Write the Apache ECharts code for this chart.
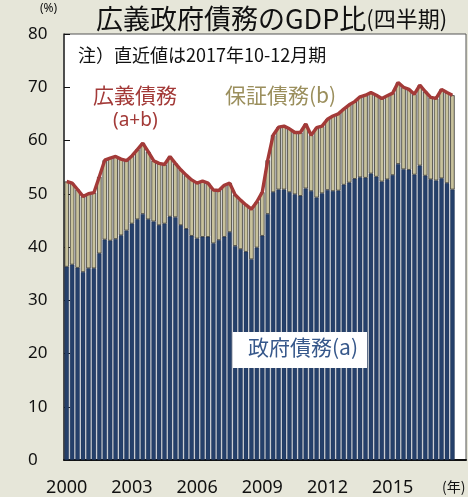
<!DOCTYPE html>
<html>
<head>
<meta charset="utf-8">
<script src="https://cdn.jsdelivr.net/npm/echarts@6/dist/echarts.min.js"></script>
<style>
  html, body { margin: 0; padding: 0; background: #e6e6d9; }
  #chart { width: 468px; height: 497px; }
</style>
</head>
<body>
<div id="chart"></div>
<script>
// 2000Q1 .. 2017Q4, % of GDP
var govDebt = [
  36.3, 36.7, 36.1, 35.3, 36.0, 36.0, 38.8, 41.4, 41.2, 41.5, 42.2, 43.1,
  44.4, 45.2, 46.2, 45.2, 44.8, 44.1, 44.4, 45.7, 45.6, 44.1, 43.4, 42.1,
  41.6, 41.9, 41.9, 40.7, 41.3, 41.9, 42.8, 40.2, 39.6, 39.1, 37.7, 39.9,
  42.1, 46.2, 50.3, 50.8, 50.8, 50.3, 49.9, 49.6, 51.0, 50.5, 49.3, 50.1,
  50.7, 50.5, 50.6, 51.7, 52.1, 52.8, 53.1, 53.0, 53.8, 53.2, 52.3, 52.7,
  53.5, 55.6, 54.6, 54.5, 53.6, 55.3, 53.4, 52.7, 52.5, 52.9, 52.0, 50.8
];
var broadDebt = [
  52.3, 52.0, 50.8, 49.5, 50.0, 50.2, 53.2, 56.3, 56.7, 57.0, 56.5, 56.2,
  57.1, 58.3, 59.5, 57.9, 56.2, 55.7, 55.5, 57.0, 55.7, 54.5, 53.5, 52.6,
  52.0, 52.4, 52.0, 50.7, 50.6, 51.6, 52.0, 49.8, 48.8, 47.9, 47.1, 48.5,
  50.3, 56.3, 61.0, 62.5, 62.7, 62.2, 61.5, 61.5, 63.1, 61.0, 62.4, 62.7,
  64.0, 64.6, 65.0, 65.9, 66.7, 67.3, 68.2, 68.5, 69.0, 68.5, 67.9, 68.4,
  68.9, 70.9, 70.0, 69.6, 68.7, 70.4, 69.2, 68.1, 67.9, 69.6, 69.0, 68.5
];
var yearLabels = ['2000', '2003', '2006', '2009', '2012', '2015'];
var firstYear = 2000;
var padQuarters = 2;

var quarters = [];
for (var y = firstYear; y < firstYear + 18; y++) {
  for (var q = 1; q <= 4; q++) quarters.push(y + 'Q' + q);
}
for (var p = 0; p < padQuarters; p++) quarters.push('');

var guarantee = govDebt.map(function (v, i) {
  return +(broadDebt[i] - v).toFixed(1);
});

var numFont = "'Noto Sans', sans-serif";
var jpFont = "'Noto Sans CJK JP', sans-serif";

var myChart = echarts.init(document.getElementById('chart'));
var option = {
  animation: false,
  backgroundColor: '#e6e6d9',
  grid: {
    left: 64, right: 2, top: 34, bottom: 37,
    show: true, backgroundColor: '#ffffff',
    borderColor: '#555', borderWidth: 1
  },
  xAxis: {
    type: 'category',
    data: quarters,
    boundaryGap: true,
    axisLine: { lineStyle: { color: '#111', width: 2 } },
    axisTick: {
      inside: true, length: 5,
      lineStyle: { color: '#111' },
      interval: function (idx) { return idx % 12 === 0 && idx > 0 && idx < 72; }
    },
    axisLabel: {
      interval: function (idx) { return idx % 12 === 0 && idx < 72; },
      formatter: function (v, idx) { return yearLabels[idx / 12] || ''; },
      fontSize: 18, color: '#111', fontFamily: numFont, margin: 19
    }
  },
  yAxis: {
    type: 'value',
    min: 0, max: 80, interval: 10,
    splitLine: { show: false },
    axisLine: { show: true, lineStyle: { color: '#333', width: 1.5 } },
    axisTick: { show: true, inside: true, length: 6, lineStyle: { color: '#111' } },
    axisLabel: {
      align: 'left', margin: 36,
      fontSize: 17, color: '#111', fontFamily: numFont
    }
  },
  series: [
    {
      name: '政府債務(a)',
      type: 'bar',
      stack: 'total',
      barCategoryGap: '18%',
      itemStyle: { color: '#25406b', borderColor: '#1b2c47', borderWidth: 0.4 },
      data: govDebt
    },
    {
      name: '保証債務(b)',
      type: 'bar',
      stack: 'total',
      itemStyle: { color: '#c8c29c', borderColor: '#1e1e1e', borderWidth: 0.7 },
      data: guarantee
    },
    {
      name: '広義債務(a+b)',
      type: 'line',
      symbol: 'none',
      z: 5,
      lineStyle: { color: '#a33a38', width: 3.4 },
      data: broadDebt
    }
  ],
  graphic: [
    {
      type: 'text', left: 96, top: 5,
      style: {
        text: '{a|広義政府債務のGDP比}{b|(四半期)}',
        rich: {
          a: { fontSize: 27, fontFamily: jpFont, fill: '#111' },
          b: { fontSize: 22, fontFamily: jpFont, fill: '#111' }
        }
      }
    },
    {
      type: 'text', left: 40, top: 3,
      style: { text: '(%)', fontSize: 12, fontFamily: numFont, fill: '#111' }
    },
    {
      type: 'text', left: 78, top: 46,
      style: { text: '注）直近値は2017年10-12月期', fontSize: 18, fontFamily: jpFont, fill: '#111' }
    },
    {
      type: 'text', left: 93, top: 85,
      style: { text: '広義債務', fontSize: 21, fontFamily: jpFont, fill: '#a33a38' }
    },
    {
      type: 'text', left: 113, top: 111,
      style: { text: '(a+b)', fontSize: 19, fontFamily: numFont, fill: '#a33a38' }
    },
    {
      type: 'text', left: 225, top: 85,
      style: { text: '保証債務(b)', fontSize: 21, fontFamily: jpFont, fill: '#9b8f5d' }
    },
    {
      type: 'rect', z: 10,
      shape: { x: 233, y: 332, width: 134, height: 36 },
      style: { fill: '#ffffff' }
    },
    {
      type: 'text', left: 248, top: 337, z: 11,
      style: { text: '政府債務(a)', fontSize: 21, fontFamily: jpFont, fill: '#37588b' }
    },
    {
      type: 'text', left: 442, top: 480,
      style: { text: '(年)', fontSize: 14, fontFamily: jpFont, fill: '#111' }
    }
  ]
};
option && myChart.setOption(option);
</script>
</body>
</html>
